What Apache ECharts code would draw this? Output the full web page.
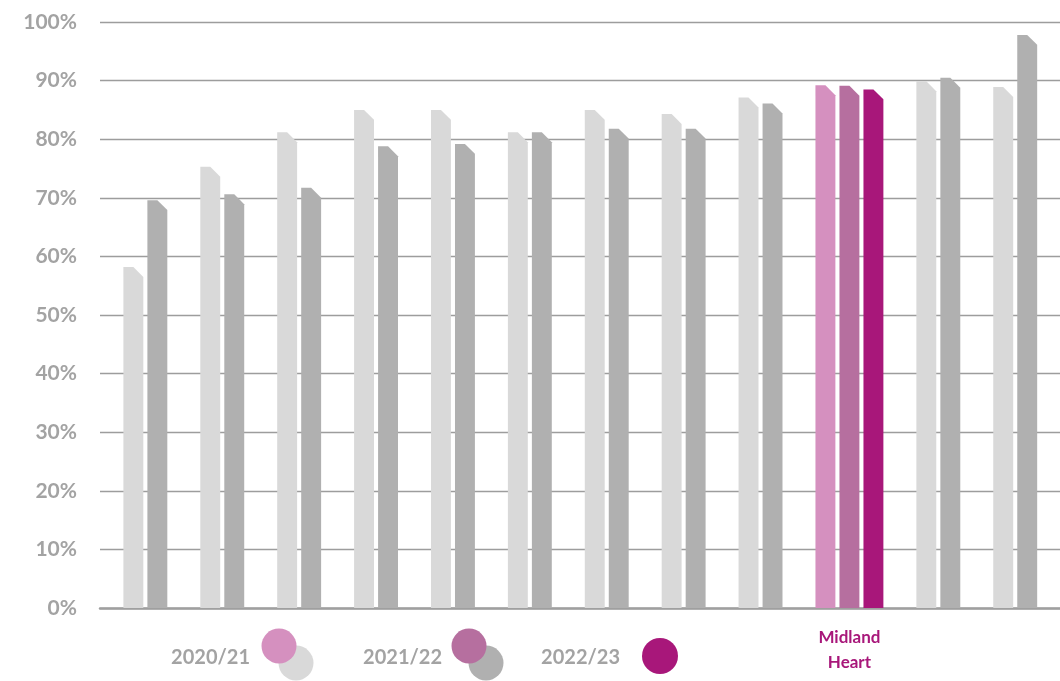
<!DOCTYPE html>
<html>
<head>
<meta charset="utf-8">
<script src="https://cdn.jsdelivr.net/npm/echarts@6/dist/echarts.min.js"></script>
<style>
  html, body { margin: 0; padding: 0; background: #fff; }
  #chart { width: 1060px; height: 681px; }
</style>
</head>
<body>
<div id="chart"></div>
<script>
  // peer groups, Midland Heart is the highlighted one
  var groups = ['Peer 1', 'Peer 2', 'Peer 3', 'Peer 4', 'Peer 5', 'Peer 6',
    'Peer 7', 'Peer 8', 'Peer 9', 'Midland Heart', 'Peer 10', 'Peer 11']
  var years = ['2020/21', '2021/22', '2022/23']
  var v2021 = [58.2, 75.3, 81.2, 85.0, 85.0, 81.2, 85.0, 84.3, 87.1, 89.2, 89.9, 88.9]
  var v2122 = [69.6, 70.6, 71.7, 78.8, 79.2, 81.2, 81.8, 81.8, 86.1, 89.1, 90.5, 97.8]
  var v2223 = [null, null, null, null, null, null, null, null, null, 88.5, null, null]
  var yTicks = [0, 10, 20, 30, 40, 50, 60, 70, 80, 90, 100]

  var highlight = 'Midland Heart'
  var peerColors = ['#d9d9d9', '#b0b0b0', '#b0b0b0']
  var mhColors = ['#d590bf', '#b66f9f', '#a8177a']

  // slot layout: one unit per bar, extra gap between groups
  var GAP = 1.204
  var BAR_W = 0.83
  var yearValues = [v2021, v2122, v2223]
  var seriesData = [[], [], []]
  var groupCenter = {}
  var slot = 0
  groups.forEach(function (g, gi) {
    var first = null, last = null
    yearValues.forEach(function (arr, yi) {
      if (arr[gi] == null) return
      if (first === null) first = slot
      last = slot
      var item = { value: [slot, arr[gi]] }
      if (g === highlight) item.itemStyle = { color: mhColors[yi] }
      seriesData[yi].push(item)
      slot += 1
    })
    groupCenter[g] = (first + last) / 2
    slot += GAP
  })

  function renderBar(params, api) {
    var x = api.value(0)
    var v = api.value(1)
    var top = api.coord([x, v])
    var base = api.coord([x, 0])
    var w = api.size([BAR_W, 0])[0]
    var c = w / 2
    var l = top[0] - w / 2
    var r = top[0] + w / 2
    return {
      type: 'polygon',
      shape: {
        points: [[l, base[1]], [l, top[1]], [r - c, top[1]], [r, top[1] + c], [r, base[1]]]
      },
      style: { fill: api.visual('color') }
    }
  }

  var chart = echarts.init(document.getElementById('chart'))
  var series = years.map(function (y, yi) {
    return {
      name: y,
      type: 'custom',
      color: peerColors[yi],
      renderItem: renderBar,
      data: seriesData[yi],
      z: 3
    }
  })

  chart.setOption({
    animation: false,
    backgroundColor: '#fff',
    grid: { left: 100, right: 0, top: 22, bottom: 73 },
    xAxis: {
      type: 'value',
      min: -1.39,
      max: 38.61,
      splitLine: { show: false },
      axisTick: { show: false },
      axisLabel: { show: false },
      axisLine: { show: true, onZero: false, lineStyle: { color: '#9f9f9f', width: 2.5 } }
    },
    yAxis: {
      type: 'value',
      min: yTicks[0],
      max: yTicks[yTicks.length - 1],
      interval: yTicks[1] - yTicks[0],
      axisLine: { show: false },
      axisTick: { show: false },
      splitLine: { lineStyle: { color: '#9d9d9d', width: 1.3 } },
      axisLabel: {
        formatter: '{value}%',
        margin: 23,
        color: '#a3a3a3',
        fontFamily: 'Lato',
        fontWeight: 'bold',
        fontSize: 21
      }
    },
    series: series
  })

  // legend (overlapping dots) and the highlighted group label
  var mhX = chart.convertToPixel({ xAxisIndex: 0 }, groupCenter[highlight])
  var legendFont = 'bold 20px Lato'
  chart.setOption({
    graphic: [
      { type: 'text', right: 1060 - 250, top: 648, style: { text: years[0], font: legendFont, fill: '#a3a3a3' } },
      { type: 'circle', shape: { cx: 296, cy: 663, r: 17.5 }, style: { fill: peerColors[0] } },
      { type: 'circle', shape: { cx: 279, cy: 646, r: 17.5 }, style: { fill: mhColors[0] } },
      { type: 'text', right: 1060 - 442, top: 648, style: { text: years[1], font: legendFont, fill: '#a3a3a3' } },
      { type: 'circle', shape: { cx: 486, cy: 663, r: 17.5 }, style: { fill: peerColors[1] } },
      { type: 'circle', shape: { cx: 469, cy: 646, r: 17.5 }, style: { fill: mhColors[1] } },
      { type: 'text', right: 1060 - 620, top: 648, style: { text: years[2], font: legendFont, fill: '#a3a3a3' } },
      { type: 'circle', shape: { cx: 660, cy: 656, r: 18 }, style: { fill: mhColors[2] } },
      {
        type: 'text',
        x: mhX,
        y: 625,
        style: {
          text: 'Midland\nHeart',
          font: 'bold 17px Lato',
          lineHeight: 25,
          fill: mhColors[2],
          align: 'center'
        }
      }
    ]
  })

  window.addEventListener('resize', function () {
    chart.resize()
  })
</script>
</body>
</html>
